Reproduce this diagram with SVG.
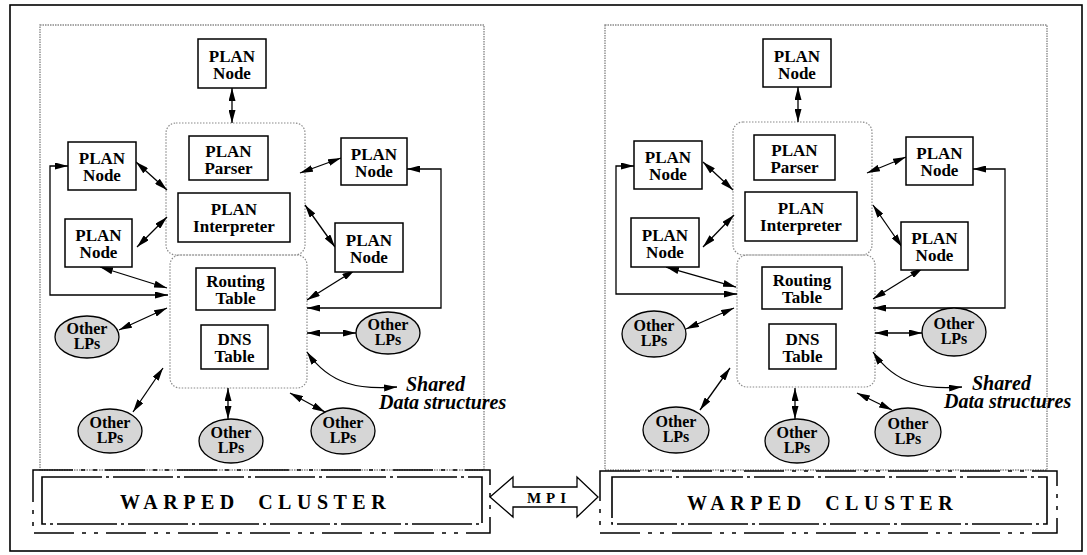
<svg xmlns="http://www.w3.org/2000/svg" width="1087" height="555" viewBox="0 0 1087 555">
<style>
.lbl{font-family:"Liberation Serif","Times New Roman",serif;font-weight:bold;font-size:17px;text-anchor:middle;fill:#000}
.lpt{font-family:"Liberation Serif","Times New Roman",serif;font-weight:bold;font-size:16px;text-anchor:middle;fill:#000}
.node{fill:#fff;stroke:#000;stroke-width:1.5}
.lp{fill:#d6d6d6;stroke:#000;stroke-width:1.3}
.grp{fill:none;stroke:#8a8a8a;stroke-width:1.2;stroke-dasharray:1.5,1.5}
.panel{fill:none;stroke:#8a8a8a;stroke-width:1.4;stroke-dasharray:1.5,1}
.con{fill:none;stroke:#000;stroke-width:1.3;marker-start:url(#ah);marker-end:url(#ah)}
.wc-out{fill:none;stroke:#000;stroke-width:1.5;stroke-dasharray:40,8,4,8,4,8}
.wc-in{fill:none;stroke:#000;stroke-width:1.6;stroke-dasharray:60,4,3,4}
.wc-t{font-family:"Liberation Serif","Times New Roman",serif;font-weight:bold;font-size:20px;letter-spacing:5.5px;word-spacing:8px;fill:#000}
.sh{font-family:"Liberation Serif","Times New Roman",serif;font-weight:bold;font-style:italic;font-size:20px;fill:#000}
</style>
<defs>
<marker id="ah" viewBox="0 0 13 7" refX="13" refY="3.5" markerWidth="13" markerHeight="7" markerUnits="userSpaceOnUse" orient="auto-start-reverse"><path d="M0,0 L13,3.5 L0,7 z" fill="#000"/></marker>
</defs>
<rect x="0" y="0" width="1087" height="555" fill="#fff"/>
<rect id="frame" x="10" y="5" width="1072" height="546" fill="none" stroke="#000" stroke-width="1.6"/>

<g id="left-panel">
<rect class="panel" x="40" y="25" width="444" height="445"/>
<rect class="grp" x="166" y="123" width="139" height="132" rx="10"/>
<rect class="grp" x="170" y="255" width="137" height="133" rx="10"/>
</g>
<g id="right-panel">
<rect class="panel" x="605" y="25" width="442" height="445"/>
<rect class="grp" x="733" y="122" width="139" height="133" rx="10"/>
<rect class="grp" x="737" y="255" width="138" height="132" rx="10"/>
</g>

<g id="connectors">
<line class="con" x1="232" y1="88" x2="232" y2="123"/>
<line class="con" x1="136" y1="162" x2="167" y2="190"/>
<line class="con" x1="137" y1="247" x2="167" y2="217"/>
<line class="con" x1="341" y1="158" x2="300" y2="173"/>
<line class="con" x1="305" y1="205" x2="335" y2="247"/>
<polyline class="con" points="68,166 50,166 50,295 168,295"/>
<polyline class="con" points="407,169 441,169 441,308 307,308"/>
<line class="con" x1="100" y1="267" x2="167" y2="288"/>
<line class="con" x1="355" y1="270" x2="307" y2="300"/>
<line class="con" x1="119" y1="330" x2="167" y2="308"/>
<line class="con" x1="307" y1="333" x2="356" y2="333"/>
<line class="con" x1="133" y1="412" x2="163" y2="368"/>
<line class="con" x1="228" y1="388" x2="228" y2="419"/>
<line class="con" x1="290" y1="393" x2="325" y2="412"/>
<path class="con" d="M307,352 C330,385 360,390 397,387"/>

<line class="con" x1="798" y1="87" x2="798" y2="122"/>
<line class="con" x1="703" y1="162" x2="733" y2="190"/>
<line class="con" x1="703" y1="247" x2="734" y2="215"/>
<line class="con" x1="906" y1="157" x2="867" y2="173"/>
<line class="con" x1="873" y1="205" x2="902" y2="247"/>
<polyline class="con" points="634,166 616,166 616,294 737,294"/>
<polyline class="con" points="973,169 1005,169 1005,308 873,308"/>
<line class="con" x1="666" y1="267" x2="736" y2="287"/>
<line class="con" x1="923" y1="268" x2="873" y2="299"/>
<line class="con" x1="686" y1="329" x2="734" y2="308"/>
<line class="con" x1="875" y1="333" x2="922" y2="333"/>
<line class="con" x1="700" y1="410" x2="730" y2="368"/>
<line class="con" x1="795" y1="388" x2="795" y2="419"/>
<line class="con" x1="857" y1="393" x2="892" y2="410"/>
<path class="con" d="M873,352 C896,385 926,390 962,387"/>
</g>

<g id="L-plan-top"><rect class="node" x="198" y="39" width="68" height="49"/><text class="lbl" x="232" y="62">PLAN</text><text class="lbl" x="232" y="79">Node</text></g>
<g id="L-parser"><rect class="node" x="189" y="136" width="79" height="44"/><text class="lbl" x="228.5" y="156.5">PLAN</text><text class="lbl" x="228.5" y="173.5">Parser</text></g>
<g id="L-interp"><rect class="node" x="178" y="193" width="112" height="49"/><text class="lbl" x="234" y="215">PLAN</text><text class="lbl" x="234" y="232">Interpreter</text></g>
<g id="L-plan-lu"><rect class="node" x="68" y="142" width="68" height="48"/><text class="lbl" x="102" y="164">PLAN</text><text class="lbl" x="102" y="181">Node</text></g>
<g id="L-plan-ll"><rect class="node" x="65" y="219" width="67" height="48"/><text class="lbl" x="98.5" y="241">PLAN</text><text class="lbl" x="98.5" y="258">Node</text></g>
<g id="L-plan-ru"><rect class="node" x="341" y="138" width="66" height="47"/><text class="lbl" x="374" y="159.5">PLAN</text><text class="lbl" x="374" y="176.5">Node</text></g>
<g id="L-plan-rl"><rect class="node" x="335" y="223" width="68" height="49"/><text class="lbl" x="369" y="245.5">PLAN</text><text class="lbl" x="369" y="262.5">Node</text></g>
<g id="L-routing"><rect class="node" x="196" y="268" width="79" height="42"/><text class="lbl" x="235.5" y="287">Routing</text><text class="lbl" x="235.5" y="304">Table</text></g>
<g id="L-dns"><rect class="node" x="201" y="325" width="67" height="44"/><text class="lbl" x="234.5" y="345">DNS</text><text class="lbl" x="234.5" y="362">Table</text></g>
<g id="L-lp1"><ellipse class="lp" cx="87" cy="337" rx="32" ry="21"/><text class="lpt" x="87" y="334">Other</text><text class="lpt" x="87" y="349">LPs</text></g>
<g id="L-lp2"><ellipse class="lp" cx="388" cy="333" rx="32" ry="21"/><text class="lpt" x="388" y="330">Other</text><text class="lpt" x="388" y="345">LPs</text></g>
<g id="L-lp3"><ellipse class="lp" cx="110" cy="431" rx="32" ry="22"/><text class="lpt" x="110" y="428">Other</text><text class="lpt" x="110" y="443">LPs</text></g>
<g id="L-lp4"><ellipse class="lp" cx="231" cy="441" rx="32" ry="22"/><text class="lpt" x="231" y="438">Other</text><text class="lpt" x="231" y="453">LPs</text></g>
<g id="L-lp5"><ellipse class="lp" cx="343" cy="431" rx="32" ry="23"/><text class="lpt" x="343" y="428">Other</text><text class="lpt" x="343" y="443">LPs</text></g>
<g id="L-shared"><text class="sh" x="406" y="391">Shared</text><text class="sh" x="379" y="409">Data structures</text></g>

<g id="R-plan-top"><rect class="node" x="763" y="39" width="68" height="48"/><text class="lbl" x="797" y="61.5">PLAN</text><text class="lbl" x="797" y="78.5">Node</text></g>
<g id="R-parser"><rect class="node" x="754" y="135" width="81" height="45"/><text class="lbl" x="794.5" y="156">PLAN</text><text class="lbl" x="794.5" y="173">Parser</text></g>
<g id="R-interp"><rect class="node" x="745" y="192" width="112" height="49"/><text class="lbl" x="801" y="214">PLAN</text><text class="lbl" x="801" y="231">Interpreter</text></g>
<g id="R-plan-lu"><rect class="node" x="634" y="141" width="68" height="48"/><text class="lbl" x="668" y="163">PLAN</text><text class="lbl" x="668" y="180">Node</text></g>
<g id="R-plan-ll"><rect class="node" x="631" y="218" width="68" height="49"/><text class="lbl" x="665" y="240.5">PLAN</text><text class="lbl" x="665" y="257.5">Node</text></g>
<g id="R-plan-ru"><rect class="node" x="906" y="137" width="67" height="48"/><text class="lbl" x="939.5" y="159">PLAN</text><text class="lbl" x="939.5" y="176">Node</text></g>
<g id="R-plan-rl"><rect class="node" x="901" y="222" width="67" height="48"/><text class="lbl" x="934.5" y="244">PLAN</text><text class="lbl" x="934.5" y="261">Node</text></g>
<g id="R-routing"><rect class="node" x="762" y="267" width="80" height="42"/><text class="lbl" x="802" y="286">Routing</text><text class="lbl" x="802" y="303">Table</text></g>
<g id="R-dns"><rect class="node" x="769" y="324" width="67" height="45"/><text class="lbl" x="802.5" y="344.5">DNS</text><text class="lbl" x="802.5" y="361.5">Table</text></g>
<g id="R-lp1"><ellipse class="lp" cx="654" cy="334" rx="32" ry="23"/><text class="lpt" x="654" y="331">Other</text><text class="lpt" x="654" y="346">LPs</text></g>
<g id="R-lp2"><ellipse class="lp" cx="954" cy="332" rx="32" ry="24"/><text class="lpt" x="954" y="329">Other</text><text class="lpt" x="954" y="344">LPs</text></g>
<g id="R-lp3"><ellipse class="lp" cx="676" cy="430" rx="33" ry="23"/><text class="lpt" x="676" y="427">Other</text><text class="lpt" x="676" y="442">LPs</text></g>
<g id="R-lp4"><ellipse class="lp" cx="797" cy="441" rx="32" ry="22"/><text class="lpt" x="797" y="438">Other</text><text class="lpt" x="797" y="453">LPs</text></g>
<g id="R-lp5"><ellipse class="lp" cx="908" cy="432" rx="33" ry="24"/><text class="lpt" x="908" y="429">Other</text><text class="lpt" x="908" y="444">LPs</text></g>
<g id="R-shared"><text class="sh" x="972" y="390">Shared</text><text class="sh" x="944" y="408">Data structures</text></g>

<g id="L-warped">
<rect class="wc-out" x="33" y="470" width="457" height="63"/>
<rect class="wc-in" x="42" y="477" width="440" height="47"/>
<text class="wc-t" x="120" y="509">WARPED CLUSTER</text>
</g>
<g id="R-warped">
<rect class="wc-out" x="600" y="471" width="457" height="62"/>
<rect class="wc-in" x="612" y="477" width="435" height="47"/>
<text class="wc-t" x="687" y="510">WARPED CLUSTER</text>
</g>
<g id="mpi">
<polygon points="490,497 513,477 513,487 577,487 577,477 598,497 577,517 577,507 513,507 513,517" fill="#fff" stroke="#000" stroke-width="1.3"/>
<text x="549" y="503" text-anchor="middle" style="font-family:'Liberation Serif','Times New Roman',serif;font-weight:bold;font-size:15px;letter-spacing:5px">MPI</text>
</g>
</svg>
